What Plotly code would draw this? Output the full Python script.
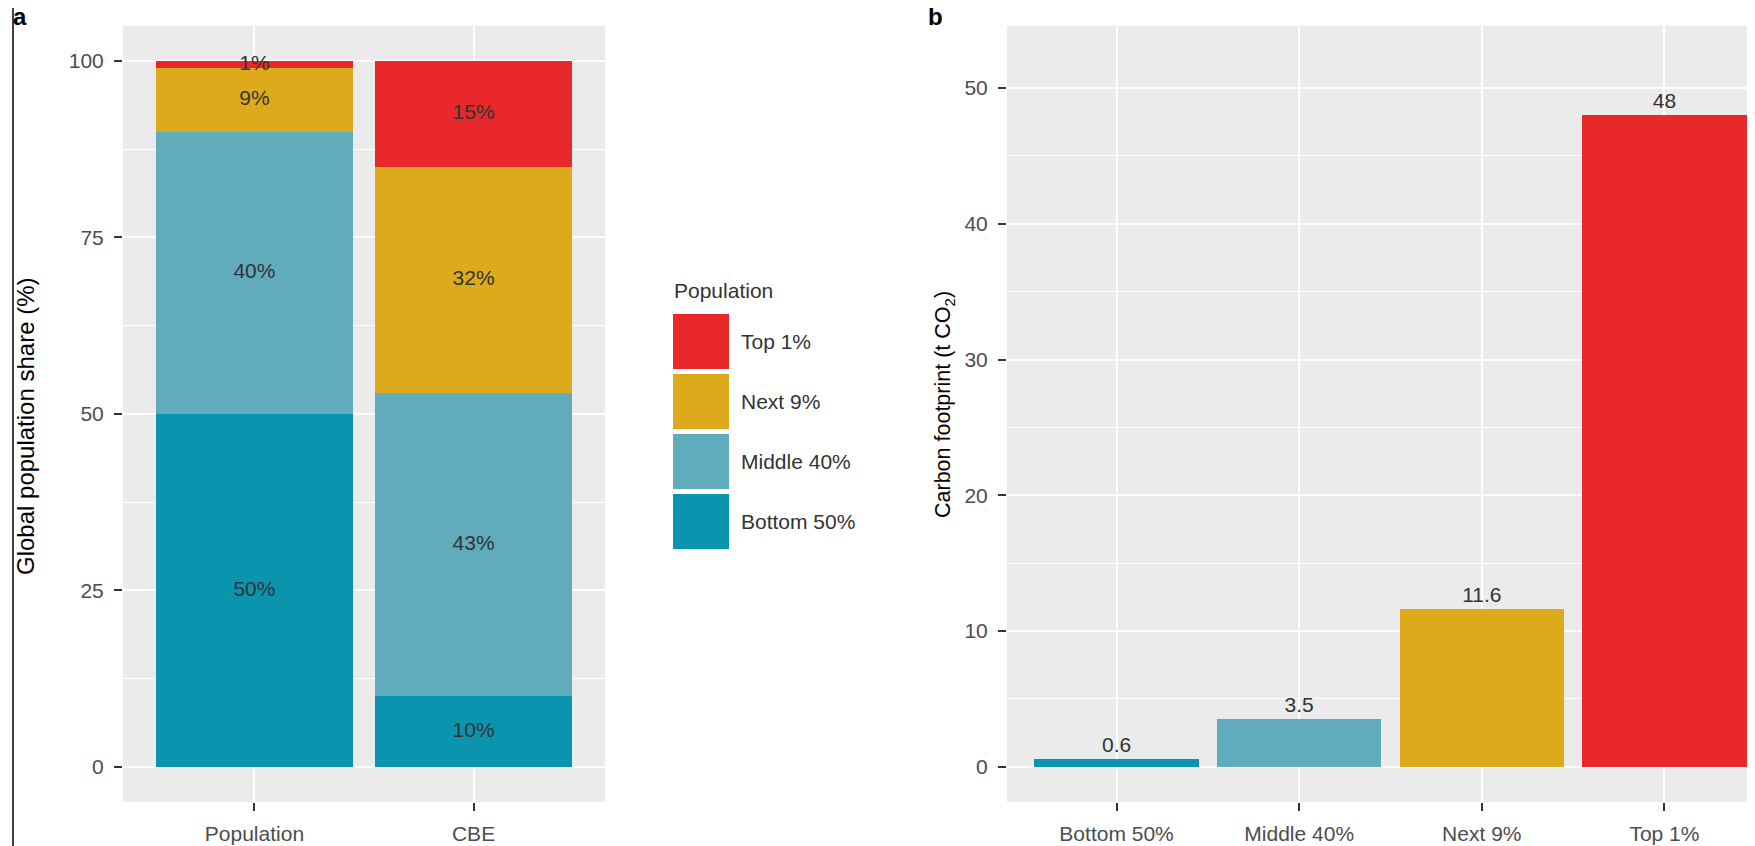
import plotly.graph_objects as go

# ---------------- data ----------------
groups = ["Bottom 50%", "Middle 40%", "Next 9%", "Top 1%"]
stack_categories = ["Population", "CBE"]
population_share = [50, 40, 9, 1]
cbe_share = [10, 43, 32, 15]
footprint = [0.6, 3.5, 11.6, 48]
group_colors = ["#0A94AE", "#60ABBC", "#DCAA1A", "#E8282A"]
left_yticks = [0, 25, 50, 75, 100]
right_yticks = [0, 10, 20, 30, 40, 50]

# page has an 8px body margin; size the figure so it fills the window exactly
OFF = 8
W, H = 1755 - OFF, 846 - OFF
FONT = "Liberation Sans, Arial, sans-serif"
TICK_COLOR = "#4D4D4D"
TXT = "#333333"
FS = 21


def px_x(p):
    return (p - OFF) / W


def px_y(p):
    return 1 - (p - OFF) / H


fig = go.Figure()

# ---------- panel a: stacked bars ----------
shares = [[population_share[i], cbe_share[i]] for i in range(len(groups))]
for i, g in enumerate(groups):
    fig.add_trace(go.Bar(
        x=stack_categories, y=shares[i], name=g, width=0.9,
        marker=dict(color=group_colors[i], line=dict(width=0)),
        xaxis="x", yaxis="y", showlegend=False, hoverinfo="skip"))

# labels at the middle of each stacked segment
for j, cat in enumerate(stack_categories):
    base = 0
    ys, txt = [], []
    for i in range(len(groups)):
        v = shares[i][j]
        ys.append(base + v / 2)
        txt.append(f"{v}%")
        base += v
    fig.add_trace(go.Scatter(
        x=[cat] * len(ys), y=ys, text=txt, mode="text",
        textfont=dict(size=FS, color=TXT, family=FONT),
        xaxis="x", yaxis="y", showlegend=False, hoverinfo="skip",
        cliponaxis=False))

# ---------- panel b: footprint bars ----------
fig.add_trace(go.Bar(
    x=groups, y=footprint, width=0.9,
    marker=dict(color=group_colors, line=dict(width=0)),
    text=[str(v) for v in footprint], textposition="outside",
    textfont=dict(size=FS, color=TXT, family=FONT),
    cliponaxis=False,
    xaxis="x2", yaxis="y2", showlegend=False, hoverinfo="skip"))

fig.update_layout(barmode="stack")

axis_common = dict(
    showline=False, zeroline=False,
    ticks="outside", ticklen=8, tickwidth=1.5, tickcolor="#333333",
    tickfont=dict(size=FS, color=TICK_COLOR, family=FONT),
    showgrid=True, gridcolor="white", gridwidth=2,
)

ydom = [px_y(802), px_y(25.7)]

fig.update_layout(
    width=W, height=H,
    margin=dict(l=0, r=0, t=0, b=0),
    paper_bgcolor="white", plot_bgcolor="#EBEBEB",
    font=dict(family=FONT, size=FS, color=TXT),
    xaxis=dict(domain=[px_x(123), px_x(605)], range=[-0.6, 1.6],
               type="category", ticklabelstandoff=5, anchor="y", **axis_common),
    yaxis=dict(domain=ydom, range=[-5, 105], tickvals=left_yticks,
               ticklabelstandoff=6, anchor="x",
               minor=dict(dtick=12.5, tick0=0, showgrid=True, gridcolor="white",
                          gridwidth=1, ticks=""),
               **axis_common),
    xaxis2=dict(domain=[px_x(1007), 1.0], range=[-0.6, 3.496],
                type="category", ticklabelstandoff=5, anchor="y2", **axis_common),
    yaxis2=dict(domain=ydom, range=[-2.6, 54.6], tickvals=right_yticks,
                ticklabelstandoff=6, anchor="x2",
                minor=dict(dtick=5, tick0=0, showgrid=True, gridcolor="white",
                           gridwidth=1, ticks=""),
                **axis_common),
)

annotations = []
shapes = []

# axis titles
annotations.append(dict(
    x=px_x(25), y=px_y(426), xref="paper", yref="paper",
    text="Global population share (%)", textangle=-90, showarrow=False,
    font=dict(size=24, color="#000000", family=FONT),
    xanchor="center", yanchor="middle"))
annotations.append(dict(
    x=px_x(944), y=px_y(404), xref="paper", yref="paper",
    text="Carbon footprint (t CO<sub>2</sub>)", textangle=-90, showarrow=False,
    font=dict(size=21.5, color="#000000", family=FONT),
    xanchor="center", yanchor="middle"))

# panel letters
annotations.append(dict(x=px_x(11), y=px_y(17), xref="paper", yref="paper",
                        text="<b>a</b>", showarrow=False, xanchor="left",
                        yanchor="middle", font=dict(size=24, color="#000000", family=FONT)))
annotations.append(dict(x=px_x(926), y=px_y(17), xref="paper", yref="paper",
                        text="<b>b</b>", showarrow=False, xanchor="left",
                        yanchor="middle", font=dict(size=24, color="#000000", family=FONT)))

# manual legend (top group first)
annotations.append(dict(x=px_x(672), y=px_y(290), xref="paper", yref="paper",
                        text="Population", showarrow=False, xanchor="left",
                        yanchor="middle", font=dict(size=FS, color=TXT, family=FONT)))
key_top = 314
key_h = 55
key_gap = 5
order = list(range(len(groups)))[::-1]
for k, i in enumerate(order):
    y0 = key_top + k * (key_h + key_gap)
    shapes.append(dict(type="rect", xref="paper", yref="paper",
                       x0=px_x(673), x1=px_x(729), y0=px_y(y0 + key_h), y1=px_y(y0),
                       fillcolor=group_colors[i], line=dict(width=0)))
    annotations.append(dict(x=px_x(739), y=px_y(y0 + key_h / 2), xref="paper", yref="paper",
                            text=groups[i], showarrow=False, xanchor="left",
                            yanchor="middle", font=dict(size=FS, color=TXT, family=FONT)))

# left frame line
shapes.append(dict(type="line", xref="paper", yref="paper",
                   x0=px_x(13), x1=px_x(13), y0=0, y1=px_y(5),
                   line=dict(color="#000000", width=1.5)))

fig.update_layout(annotations=annotations, shapes=shapes)

fig.write_html("out.html")
